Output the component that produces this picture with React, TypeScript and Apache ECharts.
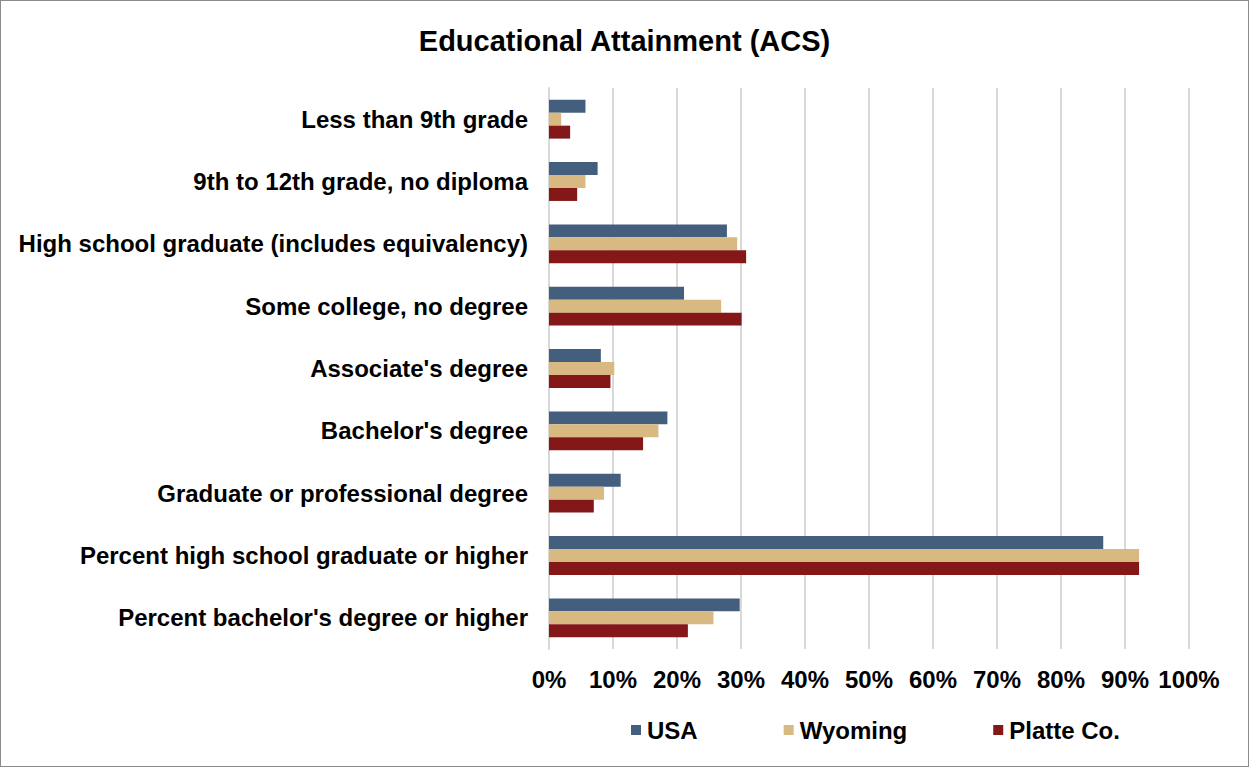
import React, { useEffect, useRef } from "react";
import * as echarts from "echarts";

const categories = [
  "Less than 9th grade",
  "9th to 12th grade, no diploma",
  "High school graduate (includes equivalency)",
  "Some college, no degree",
  "Associate's degree",
  "Bachelor's degree",
  "Graduate or professional degree",
  "Percent high school graduate or higher",
  "Percent bachelor's degree or higher",
];
const seriesNames = ["USA", "Wyoming", "Platte Co."];
const usa = [5.7, 7.6, 27.8, 21.1, 8.1, 18.5, 11.2, 86.6, 29.8];
const wyoming = [1.9, 5.7, 29.4, 26.9, 10.2, 17.1, 8.6, 92.2, 25.7];
const platte = [3.3, 4.4, 30.8, 30.1, 9.6, 14.7, 7.0, 92.2, 21.7];
const colors = ["#445F7E", "#D9B982", "#841818"];

export default function App() {
  const ref = useRef<HTMLDivElement>(null);
  useEffect(() => {
    document.body.style.margin = "0";
    const chart = echarts.init(ref.current!, null, { renderer: "svg" });
    const font = "'Liberation Sans', Arial, sans-serif";
    const data = [usa, wyoming, platte];
    chart.setOption({
      animation: false,
      textStyle: { fontFamily: font },
      title: {
        text: "Educational Attainment (ACS)",
        left: "center",
        top: 20,
        textStyle: { fontFamily: font, fontSize: 29, fontWeight: "bold", color: "#000" },
      },
      legend: {
        left: 625,
        top: 712,
        itemWidth: 10,
        itemHeight: 10,
        itemGap: 86,
        icon: "rect",
        textStyle: { fontFamily: font, fontSize: 24, fontWeight: "bold", color: "#000", padding: [0, 0, 0, 1] },
        data: seriesNames,
      },
      grid: { left: 548, right: 59, top: 87, bottom: 117, containLabel: false },
      xAxis: {
        type: "value",
        min: 0,
        max: 100,
        interval: 10,
        axisLine: { show: false },
        axisTick: { show: false },
        splitLine: { show: true, lineStyle: { color: "#d9d9d9", width: 2 } },
        axisLabel: {
          formatter: "{value}%",
          fontFamily: font,
          fontSize: 24,
          fontWeight: "bold",
          color: "#000",
          margin: 18,
        },
      },
      yAxis: {
        type: "category",
        inverse: true,
        data: categories,
        axisLine: { show: true, lineStyle: { color: "#d9d9d9", width: 2 } },
        axisTick: { show: false },
        axisLabel: {
          fontFamily: font,
          fontSize: 24,
          fontWeight: "bold",
          color: "#000",
          margin: 21,
        },
      },
      series: seriesNames.map((n, i) => ({
        name: n,
        type: "bar",
        data: data[i],
        barGap: "0%",
        barCategoryGap: "37.6%",
        itemStyle: { color: colors[i] },
      })),
    });
    return () => chart.dispose();
  }, []);
  return (
    <div
      ref={ref}
      style={{
        position: "absolute",
        left: 0,
        top: 0,
        width: 1249,
        height: 767,
        boxSizing: "border-box",
        border: "1px solid #8a8a8a",
        background: "#fff",
      }}
    />
  );
}
